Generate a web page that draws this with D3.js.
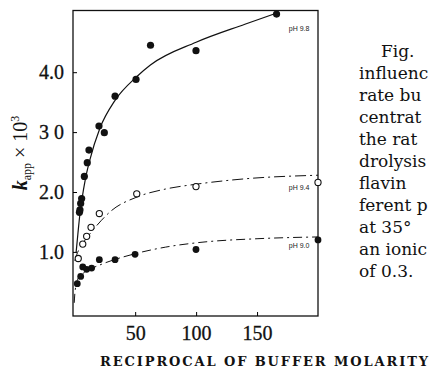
<!DOCTYPE html>
<html>
<head>
<meta charset="utf-8">
<script src="https://cdn.jsdelivr.net/npm/d3@7"></script>
<style>
  body { margin: 0; background: #fff; }
  svg { display: block; overflow: hidden; }
  .tick text { font-family: "Liberation Serif", serif; font-size: 20px; fill: #111; stroke: #111; stroke-width: 0.3px; }
</style>
</head>
<body>
<script>
// values (x = 1/[buffer], y = k_app x 10^3)
const ph98X = [4.3, 4.7, 5.3, 6.1, 8.3, 10.7, 12.1, 20.3, 24.7, 33.5, 50.7, 62.6, 99.9, 166];
const ph98Y = [1.66, 1.70, 1.81, 1.89, 2.26, 2.49, 2.70, 3.10, 2.99, 3.60, 3.88, 4.45, 4.36, 4.97];
const ph94X = [3.3, 7.0, 10.2, 13.8, 20.6, 51.3, 99.9, 200];
const ph94Y = [0.89, 1.13, 1.26, 1.41, 1.64, 1.97, 2.09, 2.16];
const ph90X = [2.5, 5.3, 7.0, 10.2, 14.3, 20.6, 33.5, 49.9, 99.9, 200];
const ph90Y = [0.47, 0.59, 0.75, 0.71, 0.73, 0.87, 0.87, 0.96, 1.04, 1.20];

// fitted curves
const fit98X = [1.5, 3, 4.5, 6.5, 9, 13, 21, 33.5, 51, 62.5, 100, 140, 168];
const fit98Y = [0.98, 1.3, 1.6, 1.9, 2.2, 2.55, 3.06, 3.53, 3.92, 4.12, 4.5, 4.8, 5.0];
const fit94X = [0.5, 2, 5, 9, 14, 22, 30, 52, 75, 100, 140, 200];
const fit94Y = [0.85, 0.95, 1.08, 1.2, 1.33, 1.52, 1.68, 1.92, 2.05, 2.13, 2.22, 2.28];
const fit90X = [0, 0.5, 1.5, 3, 6, 11, 22, 50, 75, 104, 150, 200];
const fit90Y = [0.15, 0.3, 0.45, 0.55, 0.62, 0.69, 0.79, 0.97, 1.08, 1.16, 1.22, 1.25];

const xTicks = [50, 100, 150];
const yTicks = [1, 2, 3, 4];
const yTickLabels = ["1.0", "2.0", "3 0", "4.0"];

// caption column, as much as the picture shows
const caption = ["Fig.", "influenc", "rate bu", "centrat", "the rat", "drolysis",
                 "flavin", "ferent p", "at 35°", "an ionic", "of 0.3."];

const W = 431, H = 371;
const svg = d3.select("body").append("svg").attr("width", W).attr("height", H);
svg.append("rect").attr("width", W).attr("height", H).attr("fill", "#fff");

const x = d3.scaleLinear().domain([-1, 200]).range([73, 318]);
const y = d3.scaleLinear().domain([-0.07, 5.03]).range([316, 10.5]);

// frame
svg.append("rect")
  .attr("x", x(-1)).attr("y", y(5.03))
  .attr("width", x(200) - x(-1)).attr("height", y(-0.07) - y(5.03))
  .attr("fill", "none").attr("stroke", "#111").attr("stroke-width", 1.3);

svg.append("g")
  .attr("transform", "translate(0," + y(-0.07) + ")")
  .call(d3.axisBottom(x).tickValues(xTicks).tickSize(-4).tickPadding(10))
  .call(g => g.select(".domain").remove());

svg.append("g")
  .attr("transform", "translate(" + x(-1) + ",0)")
  .call(d3.axisLeft(y).tickValues(yTicks).tickSize(-4).tickPadding(9)
    .tickFormat((d, i) => yTickLabels[i]))
  .call(g => g.select(".domain").remove());

// curves
const line = d3.line().x(d => x(d[0])).y(d => y(d[1])).curve(d3.curveMonotoneX);
const zip = (a, b) => a.map((v, i) => [v, b[i]]);

svg.append("path").datum(zip(fit98X, fit98Y)).attr("d", line)
  .attr("fill", "none").attr("stroke", "#111").attr("stroke-width", 1.2);
svg.append("path").datum(zip(fit94X, fit94Y)).attr("d", line)
  .attr("fill", "none").attr("stroke", "#111").attr("stroke-width", 1)
  .attr("stroke-dasharray", "11,4,2,4");
svg.append("path").datum(zip(fit90X, fit90Y)).attr("d", line)
  .attr("fill", "none").attr("stroke", "#111").attr("stroke-width", 1)
  .attr("stroke-dasharray", "9,4,2,4");

// points
svg.selectAll(".p98").data(zip(ph98X, ph98Y)).enter().append("circle")
  .attr("cx", d => x(d[0])).attr("cy", d => y(d[1])).attr("r", 3.6).attr("fill", "#111");
svg.selectAll(".p90").data(zip(ph90X, ph90Y)).enter().append("circle")
  .attr("cx", d => x(d[0])).attr("cy", d => y(d[1])).attr("r", 3.4).attr("fill", "#111");
svg.selectAll(".p94").data(zip(ph94X, ph94Y)).enter().append("circle")
  .attr("cx", d => x(d[0])).attr("cy", d => y(d[1])).attr("r", 3.1)
  .attr("fill", "#fff").attr("stroke", "#111").attr("stroke-width", 1.1);

// curve labels
[["pH 9.8", 4.68], ["pH 9.4", 2.03], ["pH 9.0", 1.06]].forEach(l => {
  svg.append("text").attr("x", x(176)).attr("y", y(l[1]))
    .attr("font-family", "Liberation Sans, sans-serif").attr("font-size", 7)
    .attr("fill", "#222").text(l[0]);
});

// y axis title: k_app x 10^3
const yt = svg.append("text")
  .attr("transform", "translate(27,153) rotate(-90)")
  .attr("text-anchor", "middle")
  .attr("font-family", "Liberation Serif, serif").attr("font-size", 20).attr("fill", "#111");
yt.append("tspan").attr("font-style", "italic").attr("font-weight", "bold").text("k");
yt.append("tspan").attr("font-size", 12).attr("dy", 4).text("app");
yt.append("tspan").attr("dy", -4).text(" × 10");
yt.append("tspan").attr("font-size", 12).attr("dy", -8).text("3");

// x axis title
svg.append("text")
  .attr("x", 100).attr("y", 366)
  .attr("font-family", "DejaVu Serif, serif").attr("font-weight", "bold")
  .attr("font-size", 13).attr("fill", "#111")
  .attr("textLength", 328).attr("lengthAdjust", "spacing")
  .text("RECIPROCAL OF BUFFER MOLARITY");

// caption column on the right
svg.append("g").selectAll("text").data(caption).enter().append("text")
  .attr("x", (d, i) => i === 0 ? 381 : 359)
  .attr("y", (d, i) => 57 + i * 22)
  .attr("font-family", "DejaVu Serif, serif").attr("font-size", 17)
  .attr("fill", "#111")
  .text(d => d);
</script>
</body>
</html>
